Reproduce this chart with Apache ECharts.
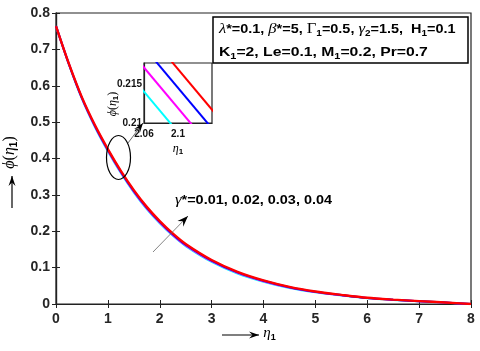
<!DOCTYPE html>
<html>
<head>
<meta charset="utf-8">
<script src="https://cdn.jsdelivr.net/npm/echarts@6/dist/echarts.min.js"></script>
<style>
html, body { margin: 0; padding: 0; background: #fff; }
#chart { width: 480px; height: 351px; }
</style>
</head>
<body>
<div id="chart"></div>
<script>
// eta_1 values and phi(eta_1) for the four gamma* values
const eta = [0, 0.25, 0.5, 0.75, 1, 1.25, 1.5, 1.75, 2, 2.25, 2.5, 3, 3.5, 4, 4.5, 5, 5.5, 6, 6.5, 7, 7.5, 8];
const phiG001 = [0.764, 0.6582, 0.5638, 0.4866, 0.420, 0.360, 0.307, 0.261, 0.222, 0.188, 0.1593, 0.1159, 0.084, 0.0614, 0.0442, 0.032, 0.0234, 0.0158, 0.0111, 0.0074, 0.0037, 0];
const phiG002 = [0.764, 0.6588, 0.5652, 0.4884, 0.422, 0.362, 0.309, 0.263, 0.224, 0.190, 0.1612, 0.1176, 0.0855, 0.0626, 0.0452, 0.0328, 0.024, 0.0162, 0.0114, 0.0076, 0.0038, 0];
const phiG003 = [0.764, 0.6594, 0.5666, 0.4902, 0.424, 0.364, 0.311, 0.265, 0.226, 0.192, 0.1631, 0.1193, 0.087, 0.0638, 0.0462, 0.0336, 0.0246, 0.0166, 0.0117, 0.0078, 0.0039, 0];
const phiG004 = [0.764, 0.660, 0.568, 0.492, 0.426, 0.366, 0.313, 0.267, 0.228, 0.194, 0.165, 0.121, 0.0885, 0.065, 0.0472, 0.0344, 0.0252, 0.017, 0.012, 0.008, 0.004, 0];

// zoomed inset
const insetEta = [2.05, 2.15];
const insetG001 = [0.2150, 0.2020];
const insetG002 = [0.2181, 0.2051];
const insetG003 = [0.2207, 0.2077];
const insetG004 = [0.2231, 0.2101];

const seriesNames = ['γ*=0.01', 'γ*=0.02', 'γ*=0.03', 'γ*=0.04'];
const seriesColors = ['#00FFFF', '#FF00FF', '#0000FF', '#FF0000'];

const chart = echarts.init(document.getElementById('chart'));

const txt = '#262626';
const sans = 'Liberation Sans';
const serif = 'Liberation Serif';

function pairs(xs, ys) {
  return xs.map((x, i) => [x, ys[i]]);
}

// filled arrow head (matlab style), tip + where the shaft comes from
function arrowHead(tip, from, len, w) {
  const dx = tip[0] - from[0], dy = tip[1] - from[1];
  const l = Math.sqrt(dx * dx + dy * dy);
  const ux = dx / l, uy = dy / l;
  const nx = -uy, ny = ux;
  return {
    type: 'polygon',
    z: 100,
    shape: {
      points: [
        tip,
        [tip[0] - ux * len + nx * w / 2, tip[1] - uy * len + ny * w / 2],
        [tip[0] - ux * len * 0.65, tip[1] - uy * len * 0.65],
        [tip[0] - ux * len - nx * w / 2, tip[1] - uy * len - ny * w / 2]
      ]
    },
    style: { fill: '#000' }
  };
}

function arrow(from, tip, color, lw, len, w) {
  return [
    { type: 'line', z: 100, shape: { x1: from[0], y1: from[1], x2: tip[0], y2: tip[1] }, style: { stroke: color, lineWidth: lw } },
    arrowHead(tip, from, len, w)
  ];
}

const richTxt = {
  g: { fontFamily: serif, fontStyle: 'italic', fontSize: 15, color: '#000' },
  G: { fontFamily: serif, fontSize: 15, color: '#000' },
  b: { fontFamily: sans, fontWeight: 'bold', fontSize: 13, color: '#000' },
  s: { fontFamily: sans, fontWeight: 'bold', fontSize: 9, color: '#000', padding: [9, 0, 0, 0] }
};

const mainLines = [phiG001, phiG002, phiG003, phiG004].map((d, i) => ({
  name: seriesNames[i],
  type: 'line',
  xAxisIndex: 0,
  yAxisIndex: 0,
  data: pairs(eta, d),
  smooth: 0.3,
  symbol: 'none',
  lineStyle: { color: seriesColors[i], width: i == 3 ? 2.4 : 2 },
  z: 2 + i
}));

const insetLines = [insetG001, insetG002, insetG003, insetG004].map((d, i) => ({
  name: seriesNames[i],
  type: 'line',
  xAxisIndex: 2,
  yAxisIndex: 2,
  data: pairs(insetEta, d),
  symbol: 'none',
  clip: true,
  lineStyle: { color: seriesColors[i], width: 2 },
  z: 12
}));

const option = {
  animation: false,
  backgroundColor: '#fff',
  grid: [
    { left: 56, right: 9, top: 13, bottom: 47, containLabel: false, outerBoundsMode: 'none', show: true, borderColor: '#222', borderWidth: 1.2, backgroundColor: '#fff' },
    { left: 144, top: 63, width: 68, height: 60, containLabel: false, outerBoundsMode: 'none', show: true, borderColor: '#222', borderWidth: 1.2, backgroundColor: '#fff', z: 10 }
  ],
  xAxis: [
    {
      gridIndex: 0, type: 'value', min: 0, max: 8, interval: 1,
      axisLine: { show: true, lineStyle: { color: '#222', width: 1.2 } },
      axisTick: { show: true, inside: true, length: 4, lineStyle: { color: '#222' } },
      splitLine: { show: false },
      axisLabel: { margin: 8, color: txt, fontFamily: sans, fontWeight: 'bold', fontSize: 14 },
      name: '{g|η}{s|1}',
      nameLocation: 'middle',
      nameGap: 20,
      nameMoveOverlap: false,
      nameTextStyle: { rich: richTxt, padding: [0, 0, 0, 12] }
    },
    {
      gridIndex: 0, type: 'value', min: 0, max: 8, interval: 1, position: 'top',
      axisLine: { show: true, lineStyle: { color: '#222', width: 1.2 } },
      axisTick: { show: true, inside: true, length: 4, lineStyle: { color: '#222' } },
      splitLine: { show: false },
      axisLabel: { show: false }
    },
    {
      gridIndex: 1, type: 'value', min: 2.0576, max: 2.1376, interval: 0.04,
      axisLine: { show: true, lineStyle: { color: '#222', width: 1.2 } },
      axisTick: { show: false },
      splitLine: { show: false },
      axisLabel: {
        margin: 6, color: '#111', fontFamily: sans, fontWeight: 'bold', fontSize: 10,
        showMinLabel: true, showMaxLabel: false,
        formatter: v => (Math.abs(v - 2.0576) < 0.001 ? '2.06' : (Math.abs(v - 2.0976) < 0.001 ? '2.1' : ''))
      },
      name: '{g|η}{s|1}',
      nameLocation: 'middle',
      nameGap: 18,
      nameMoveOverlap: false,
      nameTextStyle: { rich: { g: { fontFamily: serif, fontStyle: 'italic', fontSize: 12, color: '#000' }, s: { fontFamily: sans, fontWeight: 'bold', fontSize: 8, color: '#000', padding: [7, 0, 0, 0] } } },
      z: 11
    }
  ],
  yAxis: [
    {
      gridIndex: 0, type: 'value', min: 0, max: 0.8, interval: 0.1,
      axisLine: { show: true, lineStyle: { color: '#222', width: 1.2 } },
      axisTick: { show: true, inside: true, length: 4, lineStyle: { color: '#222' } },
      splitLine: { show: false },
      axisLabel: { margin: 6, color: txt, fontFamily: sans, fontWeight: 'bold', fontSize: 14 },
      name: '{g|ϕ}{p|(}{g|η}{s|1}{p|)}',
      nameLocation: 'middle',
      nameRotate: 90,
      nameGap: 37,
      nameMoveOverlap: false,
      nameTextStyle: {
        padding: [0, 0, 0, 12],
        rich: {
          g: { fontFamily: serif, fontStyle: 'italic', fontSize: 16, color: '#000' },
          p: { fontFamily: serif, fontSize: 16, color: '#000' },
          s: { fontFamily: sans, fontWeight: 'bold', fontSize: 10, color: '#000', padding: [9, 0, 0, 0] }
        }
      }
    },
    {
      gridIndex: 0, type: 'value', min: 0, max: 0.8, interval: 0.1, position: 'right',
      axisLine: { show: true, lineStyle: { color: '#222', width: 1.2 } },
      axisTick: { show: true, inside: true, length: 4, lineStyle: { color: '#222' } },
      splitLine: { show: false },
      axisLabel: { show: false }
    },
    {
      gridIndex: 1, type: 'value', min: 0.21, max: 0.2177, interval: 0.005,
      axisLine: { show: true, lineStyle: { color: '#222', width: 1.2 } },
      axisTick: { show: false },
      splitLine: { show: false },
      axisLabel: {
        margin: 2, color: '#111', fontFamily: sans, fontWeight: 'bold', fontSize: 10,
        formatter: v => (Math.abs(v - 0.21) < 1e-6 ? '0.21' : (Math.abs(v - 0.215) < 1e-6 ? '0.215' : ''))
      },
      name: '{g|ϕ}{p|(}{g|η}{s|1}{p|)}',
      nameLocation: 'middle',
      nameRotate: 90,
      nameGap: 24,
      nameMoveOverlap: false,
      nameTextStyle: {
        padding: [0, 22, 0, 0],
        rich: {
          g: { fontFamily: serif, fontStyle: 'italic', fontSize: 12, color: '#000' },
          p: { fontFamily: serif, fontSize: 12, color: '#000' },
          s: { fontFamily: sans, fontWeight: 'bold', fontSize: 8, color: '#000', padding: [7, 0, 0, 0] }
        }
      },
      z: 11
    }
  ],
  series: mainLines.concat(insetLines),
  graphic: [
    // parameter box
    { type: 'rect', z: 50, shape: { x: 213, y: 17, width: 255, height: 46 }, style: { fill: '#fff', stroke: '#000', lineWidth: 1.5 } },
    {
      type: 'text', z: 51, x: 219, y: 29, scaleX: 1.11,
      style: {
        text: '{g|λ}{b|*=0.1, }{g|β}{b|*=5, }{G|Γ}{s|1}{b|=0.5, }{g|γ}{s|2}{b|=1.5,  H}{s|1}{b|=0.1}',
        rich: richTxt, verticalAlign: 'middle'
      }
    },
    {
      type: 'text', z: 51, x: 219, y: 52, scaleX: 1.21,
      style: {
        text: '{b|K}{s|1}{b|=2, Le=0.1, M}{s|1}{b|=0.2, Pr=0.7}',
        rich: richTxt, verticalAlign: 'middle'
      }
    },
    // gamma* label
    {
      type: 'text', z: 51, x: 175, y: 200, scaleX: 1.11,
      style: { text: '{g|γ}{b|*=0.01, 0.02, 0.03, 0.04}', rich: richTxt, verticalAlign: 'middle' }
    },
    // ellipse marking the zoomed area
    { type: 'ellipse', z: 60, shape: { cx: 118.5, cy: 157.5, rx: 12, ry: 22 }, style: { fill: 'none', stroke: '#000', lineWidth: 1.2 } }
  ]
    .concat(arrow([128, 143], [143, 123], '#444', 0.8, 10, 7))
    .concat(arrow([153, 252], [188, 216], '#666', 0.8, 11, 8))
    .concat(arrow([222, 335], [259, 335], '#000', 1.2, 10, 7))
    .concat(arrow([12, 208], [12, 176], '#000', 1.2, 10, 7))
};

chart.setOption(option);
</script>
</body>
</html>
